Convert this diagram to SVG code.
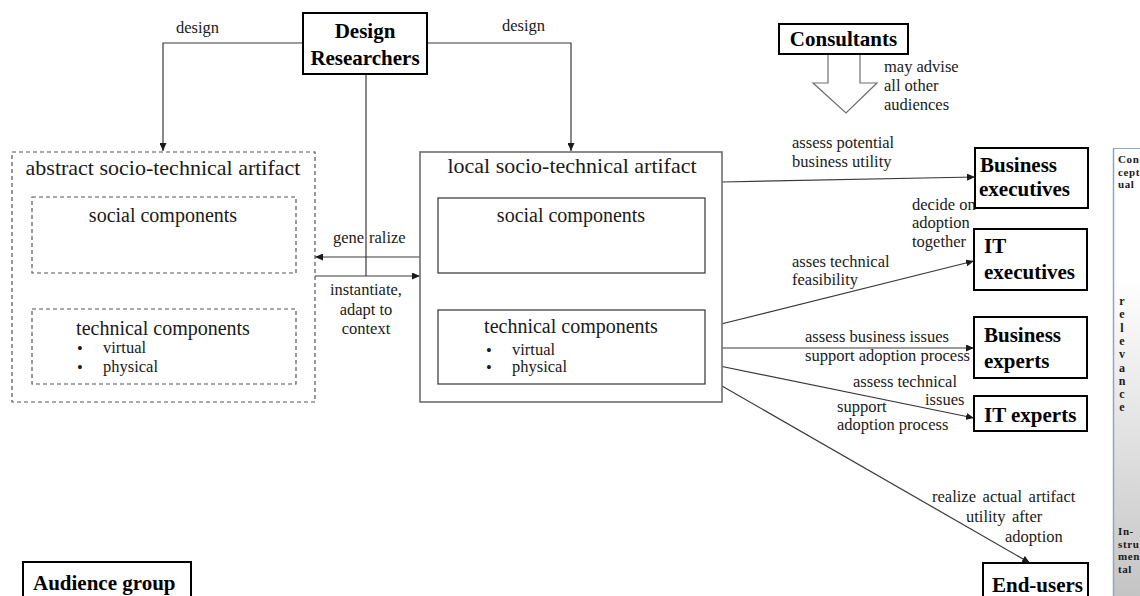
<svg xmlns="http://www.w3.org/2000/svg" width="1140" height="596" viewBox="0 0 1140 596">
  <style>
    text { font-family: "Liberation Serif", "Times New Roman", serif; fill: #1a1a1a; }
    .lbl { font-size: 16.5px; }
    .title { font-size: 22px; }
    .comp { font-size: 20px; }
    .bold { font-size: 21px; font-weight: bold; fill: #000; }
    .aud rect { fill: #fff; stroke: #000; stroke-width: 2; }
    .dash { fill: none; stroke: #555; stroke-width: 1.2; stroke-dasharray: 4 3; }
    .solid { fill: none; stroke: #333; stroke-width: 1.2; }
    .frame { fill: #fff; stroke: #6e6e6e; stroke-width: 1.6; }
    .conn { fill: none; stroke: #3a3a3a; stroke-width: 1.2; }
    .arr { marker-end: url(#tip); }
    .bar { font-size: 11px; font-weight: bold; fill: #1a1a1a; letter-spacing: 0.6px; }
    .rel { font-size: 12px; font-weight: bold; fill: #1a1a1a; writing-mode: vertical-rl; text-orientation: upright; letter-spacing: -0.7px; }
  </style>
  <defs>
    <marker id="tip" markerUnits="userSpaceOnUse" markerWidth="8" markerHeight="7" refX="8" refY="3.5" orient="auto">
      <path d="M0,0 L8,3.5 L0,7 z" fill="#1a1a1a"/>
    </marker>
    <linearGradient id="relGrad" x1="0" y1="0" x2="0" y2="1">
      <stop offset="0" stop-color="#ffffff"/>
      <stop offset="0.28" stop-color="#ffffff"/>
      <stop offset="1" stop-color="#c2c2c2"/>
    </linearGradient>
  </defs>

  <rect width="1140" height="596" fill="#fff"/>

  <!-- relevance scale on the right edge -->
  <g id="relevance-scale">
    <rect x="1113" y="148" width="40" height="460" fill="url(#relGrad)"/>
    <line x1="1113.5" y1="148" x2="1113.5" y2="596" stroke="#8ba6c6" stroke-width="1.5"/>
    <line x1="1113" y1="148.5" x2="1140" y2="148.5" stroke="#8ba6c6" stroke-width="1"/>
    <text class="bar"><tspan x="1118" y="163">Con</tspan><tspan x="1118" y="175.5">cept</tspan><tspan x="1118" y="188">ual</tspan></text>
    <text class="rel" x="1122" y="294">relevance</text>
    <text class="bar"><tspan x="1118" y="535">In-</tspan><tspan x="1118" y="547.5">stru</tspan><tspan x="1118" y="560">men</tspan><tspan x="1118" y="572.5">tal</tspan></text>
  </g>

  <!-- connectors -->
  <g id="connectors">
    <polyline class="conn arr" points="303,43 163,43 163,151"/>
    <polyline class="conn arr" points="427,43 571,43 571,151"/>
    <line class="conn" x1="366" y1="74" x2="366" y2="276" stroke="#666"/>
    <line class="conn arr" x1="420" y1="257" x2="315" y2="257"/>
    <line class="conn arr" x1="315" y1="276" x2="420" y2="276"/>
    <polygon points="828,54 828,83 813,83 846,113 877,83 860,83 860,54" fill="#fff" stroke="#6e6e6e" stroke-width="1.2"/>
    <line class="conn arr" x1="722" y1="182" x2="975" y2="177"/>
    <line class="conn arr" x1="705" y1="328" x2="974" y2="261"/>
    <line class="conn arr" x1="722" y1="348" x2="974" y2="348"/>
    <line class="conn arr" x1="705" y1="363" x2="974" y2="418"/>
    <line class="conn arr" x1="722" y1="386" x2="1030" y2="563"/>

    <text class="lbl" x="176" y="33">design</text>
    <text class="lbl" x="502" y="31">design</text>
    <text class="lbl"><tspan x="333" y="243">gene</tspan><tspan x="369" y="243">ralize</tspan></text>
    <text class="lbl" text-anchor="middle"><tspan x="366" y="295">instantiate,</tspan><tspan x="366" y="315">adapt to</tspan><tspan x="366" y="334">context</tspan></text>
    <text class="lbl"><tspan x="884" y="72">may advise</tspan><tspan x="884" y="91">all other</tspan><tspan x="884" y="110">audiences</tspan></text>
    <text class="lbl"><tspan x="792" y="148">assess potential</tspan><tspan x="792" y="167">business utility</tspan></text>
    <text class="lbl"><tspan x="912" y="210">decide on</tspan><tspan x="912" y="228">adoption</tspan><tspan x="912" y="247">together</tspan></text>
    <text class="lbl"><tspan x="792" y="267">asses technical</tspan><tspan x="792" y="285">feasibility</tspan></text>
    <text class="lbl"><tspan x="805" y="342">assess business issues</tspan><tspan x="805" y="361">support adoption process</tspan></text>
    <text class="lbl"><tspan x="853" y="387">assess technical</tspan><tspan x="925" y="405">issues</tspan></text>
    <text class="lbl"><tspan x="837" y="412">support</tspan><tspan x="837" y="430">adoption process</tspan></text>
    <text class="lbl" word-spacing="2.5"><tspan x="932" y="502">realize actual artifact</tspan><tspan x="966" y="522">utility after</tspan><tspan x="1005" y="542">adoption</tspan></text>
  </g>

  <!-- audience groups -->
  <g id="design-researchers" class="aud">
    <rect x="303" y="13" width="124" height="61"/>
    <text class="bold" text-anchor="middle"><tspan x="365" y="38">Design</tspan><tspan x="365" y="65">Researchers</tspan></text>
  </g>
  <g id="consultants" class="aud">
    <rect x="779" y="24" width="129" height="30"/>
    <text class="bold" x="843.5" y="46" text-anchor="middle">Consultants</text>
  </g>
  <g id="business-executives" class="aud">
    <rect x="975" y="148" width="113" height="60"/>
    <text class="bold"><tspan x="980" y="172">Business</tspan><tspan x="979" y="196">executives</tspan></text>
  </g>
  <g id="it-executives" class="aud">
    <rect x="974" y="229" width="113" height="61"/>
    <text class="bold"><tspan x="984" y="253">IT</tspan><tspan x="984" y="279">executives</tspan></text>
  </g>
  <g id="business-experts" class="aud">
    <rect x="974" y="317" width="113" height="61"/>
    <text class="bold"><tspan x="984" y="342">Business</tspan><tspan x="984" y="368">experts</tspan></text>
  </g>
  <g id="it-experts" class="aud">
    <rect x="974" y="396" width="113" height="35"/>
    <text class="bold" x="984" y="422">IT experts</text>
  </g>
  <g id="end-users" class="aud">
    <rect x="983" y="563" width="105" height="40"/>
    <text class="bold" x="992" y="592">End-users</text>
  </g>
  <g id="audience-group-legend" class="aud">
    <rect x="23" y="562" width="168" height="40"/>
    <text class="bold" x="33" y="590">Audience group</text>
  </g>

  <!-- abstract artifact -->
  <g id="abstract-artifact">
    <rect class="dash" x="12" y="152" width="303" height="250"/>
    <text class="title" x="163" y="175" text-anchor="middle">abstract socio-technical artifact</text>
    <rect class="dash" x="32" y="197" width="264" height="76"/>
    <text class="comp" x="163" y="222" text-anchor="middle">social components</text>
    <rect class="dash" x="32" y="309" width="264" height="75"/>
    <text class="comp" x="163" y="335" text-anchor="middle">technical components</text>
    <text class="lbl"><tspan x="77" y="354">•</tspan><tspan x="77" y="373">•</tspan></text>
    <text class="lbl"><tspan x="103" y="353">virtual</tspan><tspan x="103" y="372">physical</tspan></text>
  </g>

  <!-- local artifact -->
  <g id="local-artifact">
    <rect class="frame" x="420" y="152" width="302" height="250"/>
    <text class="title" x="572" y="173" text-anchor="middle">local socio-technical artifact</text>
    <rect class="solid" x="438" y="198" width="267" height="75"/>
    <text class="comp" x="571" y="222" text-anchor="middle">social components</text>
    <rect class="solid" x="438" y="310" width="267" height="74"/>
    <text class="comp" x="571" y="333" text-anchor="middle">technical components</text>
    <text class="lbl"><tspan x="486" y="356">•</tspan><tspan x="486" y="373">•</tspan></text>
    <text class="lbl"><tspan x="512" y="355">virtual</tspan><tspan x="512" y="372">physical</tspan></text>
  </g>
</svg>
